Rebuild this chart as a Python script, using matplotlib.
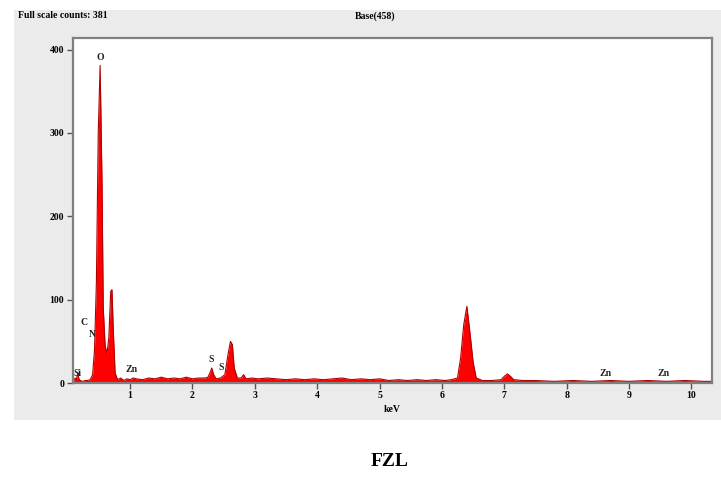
import matplotlib
matplotlib.use("Agg")
import matplotlib.pyplot as plt
from matplotlib.patches import Rectangle

# Spectrum data (keV, counts)
energy = [0.08, 0.10, 0.12, 0.14, 0.16, 0.18, 0.20, 0.24, 0.28, 0.32, 0.36, 0.40,
          0.43, 0.46, 0.49, 0.52, 0.55, 0.57, 0.60, 0.63, 0.66, 0.69, 0.71, 0.73,
          0.76, 0.80, 0.85, 0.90, 0.95, 1.00, 1.05, 1.10, 1.20, 1.30, 1.40, 1.50,
          1.60, 1.70, 1.80, 1.90, 2.00, 2.10, 2.20, 2.25, 2.28, 2.31, 2.34, 2.38,
          2.45, 2.52, 2.57, 2.61, 2.64, 2.67, 2.72, 2.78, 2.82, 2.86, 2.95, 3.05,
          3.20, 3.35, 3.50, 3.65, 3.80, 3.95, 4.10, 4.25, 4.40, 4.55, 4.70, 4.85,
          5.00, 5.15, 5.30, 5.45, 5.60, 5.75, 5.90, 6.05, 6.15, 6.25, 6.30, 6.35,
          6.40, 6.45, 6.50, 6.55, 6.65, 6.80, 6.95, 7.00, 7.05, 7.10, 7.15, 7.30,
          7.50, 7.80, 8.10, 8.40, 8.70, 9.00, 9.30, 9.60, 9.90, 10.20, 10.33]
counts = [0, 3, 6, 4, 12, 5, 3, 2, 3, 3, 4, 10,
          40, 120, 300, 381, 240, 90, 45, 35, 55, 110, 112, 65,
          12, 4, 6, 3, 5, 4, 6, 5, 4, 6, 5, 7,
          5, 6, 5, 7, 5, 6, 6, 7, 12, 18, 10, 5,
          6, 10, 34, 50, 46, 18, 6, 6, 10, 5, 6, 5,
          6, 5, 4, 5, 4, 5, 4, 5, 6, 4, 5, 4,
          5, 3, 4, 3, 4, 3, 4, 3, 4, 6, 30, 70,
          92, 60, 25, 6, 3, 3, 4, 8, 11, 8, 4, 3,
          3, 2, 3, 2, 3, 2, 3, 2, 3, 2, 2]

peak_labels = ["Si", "C", "N", "O", "Zn", "S", "S", "Zn", "Zn"]
peak_x = [0.15, 0.27, 0.39, 0.52, 1.02, 2.30, 2.46, 8.63, 9.56]
peak_y = [11, 73, 58, 391, 16, 28, 19, 11, 11]

xticks = [1, 2, 3, 4, 5, 6, 7, 8, 9, 10]
yticks = [0, 100, 200, 300, 400]

serif = ["Liberation Serif", "DejaVu Serif"]
plt.rcParams['font.family'] = serif

fig = plt.figure(figsize=(7.21, 4.79), dpi=100)
bg = Rectangle((14 / 721, 1 - 420 / 479), (721 - 14) / 721, (420 - 10) / 479,
               transform=fig.transFigure, facecolor="#ebebeb",
               edgecolor="none", zorder=-5)
fig.add_artist(bg)

ax = fig.add_axes([0.1008, 0.2004, 0.8867, 0.7203])
ax.set_zorder(2)
ax.set_facecolor("white")
ax.fill_between(energy, counts, 0, color="#ff0000", linewidth=0)
ax.plot(energy, counts, color="#b00000", linewidth=0.8)
ax.set_xlim(0.08, 10.33)
ax.set_ylim(0, 414)
ax.set_xticks(xticks)
ax.set_yticks(yticks)
ax.set_xticklabels([str(t) for t in xticks], fontsize=7, fontweight="bold")
ax.set_yticklabels([str(t) for t in yticks], fontsize=7, fontweight="bold")
ax.tick_params(direction="out", length=4, width=1, color="#555555", pad=2)
for s in ax.spines.values():
    s.set_color("#808080")
    s.set_linewidth(1.6)
ax.set_xlabel("keV", fontsize=7, fontweight="bold", labelpad=3)

for lab, x, y in zip(peak_labels, peak_x, peak_y):
    ax.text(x, y, lab, fontsize=7, fontweight="bold", ha="center", va="center",
            color="#222222")

fig.text(18 / 721, 1 - 16 / 479, "Full scale counts: 381", fontsize=7,
         fontweight="bold", ha="left", va="center")
fig.text(375 / 721, 1 - 16 / 479, "Base(458)", fontsize=7,
         fontweight="bold", ha="center", va="center")
fig.text(390 / 721, 1 - 462 / 479, "FZL", fontsize=14,
         fontweight="bold", ha="center", va="center")

fig.savefig("out.png", dpi=100)
